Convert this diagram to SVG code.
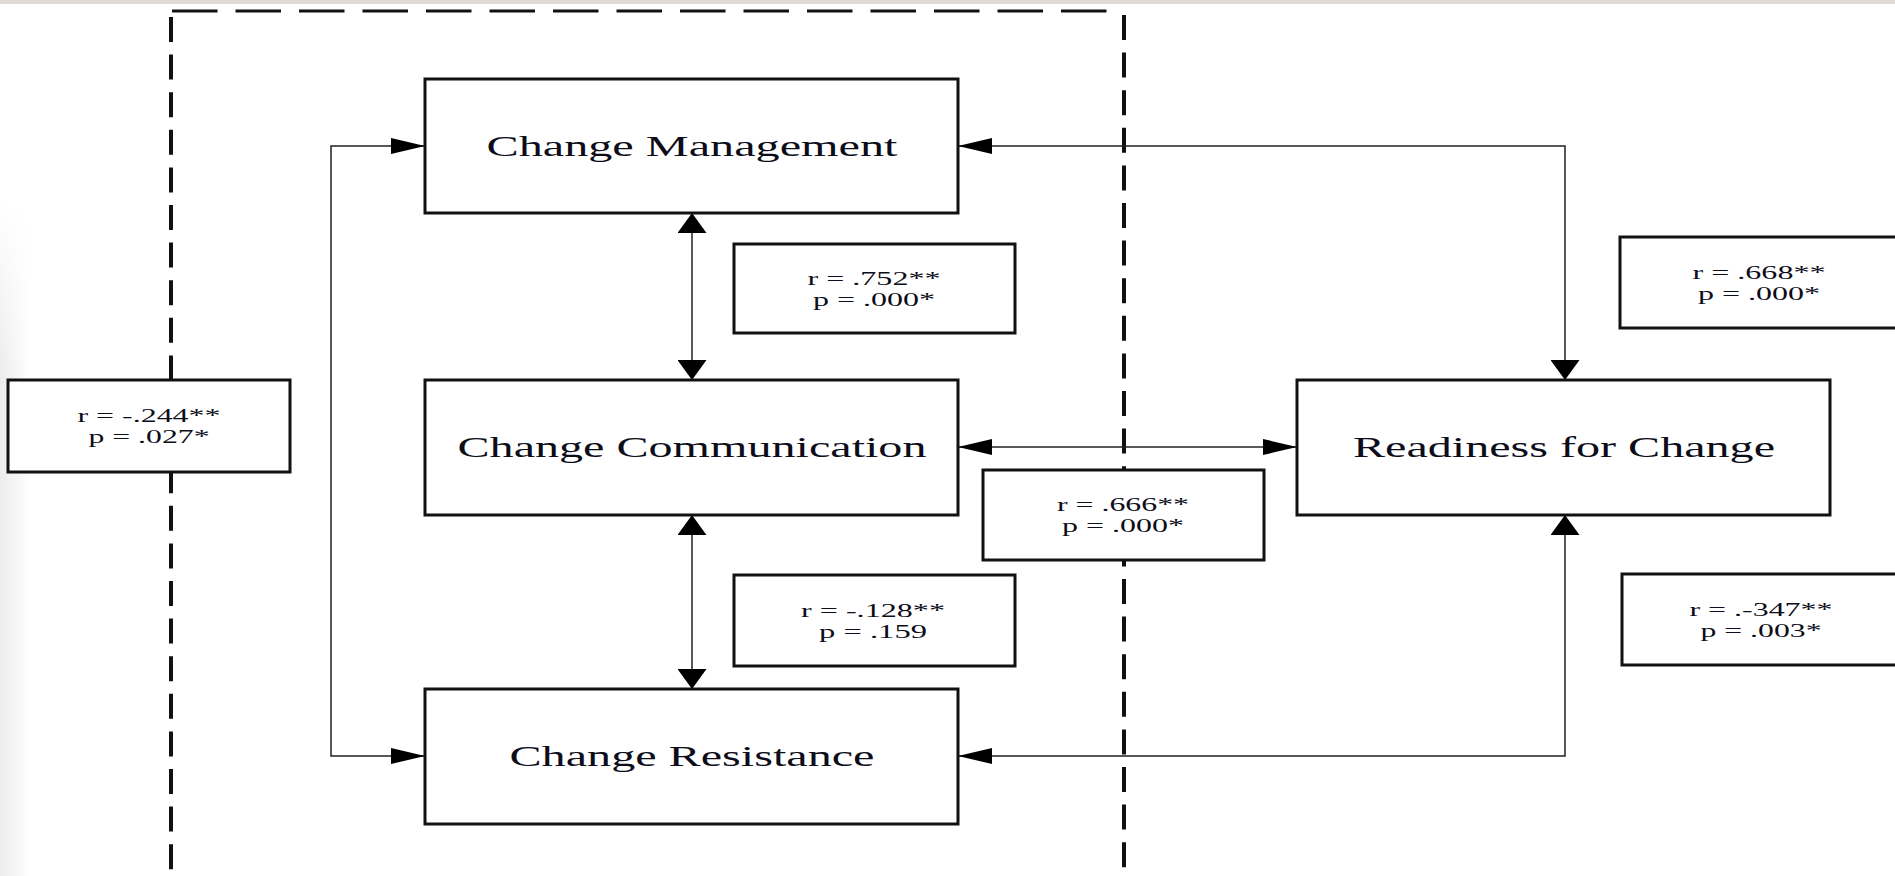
<svg xmlns="http://www.w3.org/2000/svg" width="1895" height="876" viewBox="0 0 1895 876">
<style>
.node{fill:#fff;stroke:#111;stroke-width:3}
.lbl{fill:#fff;stroke:#111;stroke-width:3}
.nt{font-family:"Liberation Serif","Times New Roman",serif;font-size:30px;fill:#0d0d1a}
.lt{font-family:"Liberation Serif","Times New Roman",serif;font-size:19px;fill:#0d0d1a}
.con{fill:none;stroke:#222;stroke-width:1.5}
.dv{fill:none;stroke:#111;stroke-width:4;stroke-dasharray:25 12.6}
.dh{fill:none;stroke:#111;stroke-width:3;stroke-dasharray:45.5 18}
</style>
<defs>
<marker id="ah" markerUnits="userSpaceOnUse" viewBox="0 0 34 16" markerWidth="34" markerHeight="16" refX="34" refY="8" orient="auto-start-reverse"><path d="M0,0 L34,8 L0,16 z" fill="#000"/></marker>
<marker id="av" markerUnits="userSpaceOnUse" viewBox="0 0 20 29" markerWidth="20" markerHeight="29" refX="20" refY="14.5" orient="auto-start-reverse"><path d="M0,0 L20,14.5 L0,29 z" fill="#000"/></marker>
<linearGradient id="sh" x1="0" y1="0" x2="1" y2="0"><stop offset="0" stop-color="#ececec"/><stop offset="1" stop-color="#fff"/></linearGradient>
<linearGradient id="fade" x1="0" y1="0" x2="0" y2="1"><stop offset="0" stop-color="#000"/><stop offset="0.25" stop-color="#fff"/><stop offset="1" stop-color="#fff"/></linearGradient>
<mask id="fm"><rect x="0" y="200" width="40" height="676" fill="url(#fade)"/></mask>
</defs>
<rect x="0" y="0" width="1895" height="876" fill="#fff"/>
<rect x="0" y="200" width="30" height="676" fill="url(#sh)" mask="url(#fm)"/>
<rect x="0" y="0" width="1895" height="4" fill="#dedad4"/>
<g id="boundary">
<path class="dh" d="M172,11 H1112"/>
<path class="dv" d="M171,17 V876"/>
<path class="dv" d="M1124,15 V876"/>
</g>
<g id="connectors">
<path class="con" d="M425,146 H331 V756 H425" marker-start="url(#ah)" marker-end="url(#ah)"/>
<path class="con" d="M692,213 V380" marker-start="url(#av)" marker-end="url(#av)"/>
<path class="con" d="M692,515 V689" marker-start="url(#av)" marker-end="url(#av)"/>
<path class="con" d="M958,146 H1565 V380" marker-start="url(#ah)" marker-end="url(#av)"/>
<path class="con" d="M958,447 H1297" marker-start="url(#ah)" marker-end="url(#ah)"/>
<path class="con" d="M958,756 H1565 V515" marker-start="url(#ah)" marker-end="url(#av)"/>
</g>
<g id="change-management">
<rect class="node" x="425" y="79" width="533" height="134"/>
<text class="nt" x="692" y="156" text-anchor="middle" textLength="411" lengthAdjust="spacingAndGlyphs">Change Management</text>
</g>
<g id="change-communication">
<rect class="node" x="425" y="380" width="533" height="135"/>
<text class="nt" x="692" y="457" text-anchor="middle" textLength="469" lengthAdjust="spacingAndGlyphs">Change Communication</text>
</g>
<g id="change-resistance">
<rect class="node" x="425" y="689" width="533" height="135"/>
<text class="nt" x="692" y="766" text-anchor="middle" textLength="365" lengthAdjust="spacingAndGlyphs">Change Resistance</text>
</g>
<g id="readiness-for-change">
<rect class="node" x="1297" y="380" width="533" height="135"/>
<text class="nt" x="1564" y="457" text-anchor="middle" textLength="422" lengthAdjust="spacingAndGlyphs">Readiness for Change</text>
</g>
<g id="label-752">
<rect class="lbl" x="734" y="244" width="281" height="89"/>
<text class="lt" x="874" y="285" text-anchor="middle" textLength="133" lengthAdjust="spacingAndGlyphs">r = .752**</text>
<text class="lt" x="874" y="306" text-anchor="middle" textLength="122" lengthAdjust="spacingAndGlyphs">p = .000*</text>
</g>
<g id="label-128">
<rect class="lbl" x="734" y="575" width="281" height="91"/>
<text class="lt" x="873" y="617" text-anchor="middle" textLength="144" lengthAdjust="spacingAndGlyphs">r = -.128**</text>
<text class="lt" x="873" y="638" text-anchor="middle" textLength="108" lengthAdjust="spacingAndGlyphs">p = .159</text>
</g>
<g id="label-666">
<rect class="lbl" x="983" y="470" width="281" height="90"/>
<text class="lt" x="1123" y="511" text-anchor="middle" textLength="132" lengthAdjust="spacingAndGlyphs">r = .666**</text>
<text class="lt" x="1123" y="532" text-anchor="middle" textLength="122" lengthAdjust="spacingAndGlyphs">p = .000*</text>
</g>
<g id="label-244">
<rect class="lbl" x="8" y="380" width="282" height="92"/>
<text class="lt" x="149" y="422" text-anchor="middle" textLength="143" lengthAdjust="spacingAndGlyphs">r = -.244**</text>
<text class="lt" x="149" y="443" text-anchor="middle" textLength="121" lengthAdjust="spacingAndGlyphs">p = .027*</text>
</g>
<g id="label-668">
<rect class="lbl" x="1620" y="237" width="290" height="91"/>
<text class="lt" x="1759" y="279" text-anchor="middle" textLength="133" lengthAdjust="spacingAndGlyphs">r = .668**</text>
<text class="lt" x="1759" y="300" text-anchor="middle" textLength="122" lengthAdjust="spacingAndGlyphs">p = .000*</text>
</g>
<g id="label-347">
<rect class="lbl" x="1622" y="574" width="290" height="91"/>
<text class="lt" x="1761" y="616" text-anchor="middle" textLength="143" lengthAdjust="spacingAndGlyphs">r = .-347**</text>
<text class="lt" x="1761" y="637" text-anchor="middle" textLength="121" lengthAdjust="spacingAndGlyphs">p = .003*</text>
</g>
</svg>
